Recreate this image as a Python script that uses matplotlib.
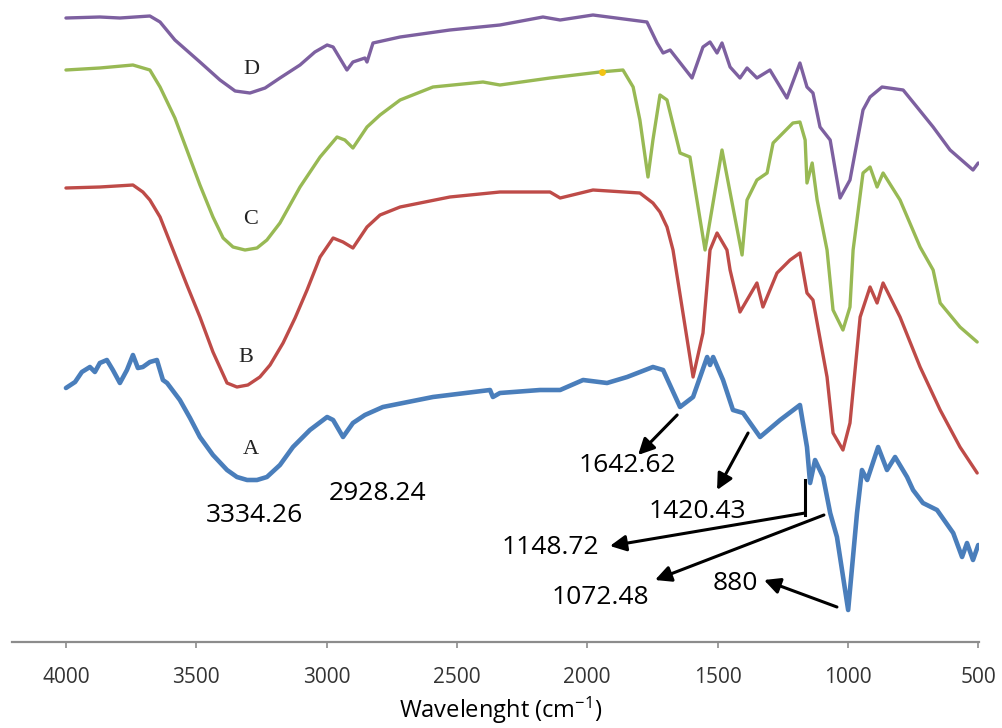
import matplotlib
matplotlib.use("Agg")
import matplotlib.pyplot as plt

# FTIR spectra, wavenumber (cm-1) vs. offset transmittance (arbitrary units)
wn_a = [4000, 3965, 3939, 3908, 3889, 3870, 3843, 3820, 3793, 3766, 3743, 3724, 3705, 3678,
        3651, 3628, 3612, 3563, 3524, 3486, 3436, 3382, 3344, 3305, 3267, 3229, 3179, 3129,
        3064, 2998, 2975, 2937, 2899, 2853, 2784, 2592,
        2373, 2362, 2335, 2181, 2104, 2016, 1924, 1847, 1748, 1709, 1644, 1594, 1540, 1529,
        1517, 1479, 1441, 1402, 1337, 1260, 1184, 1157, 1145, 1126, 1095, 1068, 1042, 999,
        965, 946, 926, 884, 850, 819, 773, 750, 712, 658, 596, 562, 543, 520, 500]
tr_a = [254, 260, 270, 275, 270, 279, 282, 272, 259, 272, 287, 274, 275, 280,
        282, 262, 259, 242, 224, 205, 187, 172, 165, 162, 162, 165, 177, 195,
        212, 225, 222, 205, 219, 227, 235, 245,
        252, 245, 249, 252, 252, 262, 259, 265, 275, 272, 235, 245, 285, 277,
        285, 262, 232, 229, 205, 222, 237, 195, 159, 182, 165, 129, 105, 32,
        129, 172, 162, 195, 172, 185, 165, 152, 139, 132, 109, 85, 99, 82, 97]

wn_b = [4000, 3870, 3743, 3705, 3678, 3639, 3589, 3536, 3486, 3436, 3382, 3344, 3302, 3256,
        3217, 3167, 3121, 3075, 3025, 2975, 2937, 2899, 2845, 2795, 2718, 2527, 2335, 2143,
        2104, 1978, 1798, 1748, 1721, 1694, 1671, 1594, 1556, 1529,
        1502, 1464, 1452, 1414, 1349, 1326, 1272, 1222, 1184, 1157, 1134, 1080, 1057, 1019,
        992, 953, 915, 888, 865, 800, 723, 646, 570, 504]
tr_b = [454, 455, 457, 450, 442, 425, 392, 357, 325, 290, 259, 255, 257, 265,
        277, 299, 324, 352, 385, 404, 400, 394, 415, 427, 435, 445, 450, 450,
        444, 452, 449, 439, 430, 415, 392, 265, 309, 392,
        409, 392, 372, 330, 359, 335, 369, 382, 389, 349, 342, 265, 209, 192,
        219, 325, 355, 339, 359, 325, 275, 232, 195, 169]

wn_c = [4000, 3870, 3743, 3678, 3639, 3582, 3536, 3486, 3436, 3397, 3359, 3313, 3267, 3229,
        3179, 3102, 3025, 2960, 2930, 2899, 2845, 2795, 2718, 2592, 2400, 2335, 2143, 1951,
        1863, 1824, 1798, 1767, 1748, 1721, 1694, 1644, 1606, 1548,
        1483, 1406, 1387, 1349, 1310, 1287, 1249, 1211, 1184, 1164, 1157, 1137, 1118, 1080,
        1057, 1019, 992, 980, 942, 915, 888, 865, 800, 723, 673, 646, 570, 504]
tr_c = [572, 574, 577, 572, 555, 524, 492, 457, 425, 404, 395, 392, 394, 402,
        419, 455, 485, 505, 502, 494, 515, 527, 542, 555, 560, 557, 564, 570,
        572, 555, 522, 465, 502, 547, 542, 489, 485, 392,
        492, 387, 442, 462, 469, 499, 509, 519, 520, 502, 459, 479, 442, 392,
        332, 312, 335, 392, 469, 475, 455, 469, 442, 395, 372, 339, 315, 300]

wn_d = [4000, 3870, 3793, 3678, 3639, 3582, 3486, 3409, 3351, 3294, 3236, 3179, 3102, 3045,
        2998, 2975, 2922, 2899, 2853, 2845, 2822, 2718, 2527,
        2335, 2170, 2104, 1978, 1771, 1732, 1709, 1682, 1598, 1556, 1529, 1502, 1483, 1452,
        1414, 1387, 1349, 1299, 1234, 1184, 1157, 1134, 1107, 1068, 1030, 992, 942, 915,
        869, 788, 735, 673, 608, 520, 500]
tr_d = [624, 625, 624, 626, 620, 602, 580, 562, 551, 549, 554, 564, 577, 590,
        597, 595, 572, 580, 584, 580, 599, 605, 612,
        617, 625, 622, 627, 620, 599, 589, 592, 564, 595, 600, 589, 599, 575,
        564, 574, 564, 572, 544, 579, 555, 549, 515, 502, 444, 462, 532, 545,
        555, 552, 535, 515, 492, 472, 479]

# small yellow blip on curve C
blip_wn = [1943]
blip_tr = [570]

series_names = ["A", "B", "C", "D"]
colors = ["#4A7EBB", "#BE4B48", "#98B954", "#7D60A0"]

# curve letters
letter_wn = [3290, 3310, 3290, 3290]
letter_tr = [193, 284, 422, 572]

# peak labels: text, text position, arrow tail, arrow tip
peak_labels = ["3334.26", "2928.24", "1642.62", "1420.43", "1148.72", "1072.48", "880"]
peak_text_wn = [3275, 2803, 1847, 1579, 2143, 1951, 1433]
peak_text_tr = [127, 149, 177, 130, 94, 44, 59]
arrow_tail = [None, None, (1655, 227), (1383, 209), (1164, 129), (1092, 127), (1042, 35)]
arrow_tip = [None, None, (1805, 187), (1502, 152), (1913, 96), (1740, 62), (1322, 62)]

fig = plt.figure(figsize=(10.02, 7.28), dpi=100)
ax = fig.add_axes([12 / 1002, 86 / 728, 967 / 1002, 642 / 728])

curves = [(wn_a, tr_a), (wn_b, tr_b), (wn_c, tr_c), (wn_d, tr_d)]
for (wn, tr), c, name in zip(curves, colors, series_names):
    lw = 3.3 if name == "A" else 2.4
    ax.plot(wn, tr, color=c, lw=lw, solid_joinstyle="round", solid_capstyle="round")

ax.plot(blip_wn, blip_tr, "o", color="#F2C314", ms=5, mec="none")

for name, x, y in zip(series_names, letter_wn, letter_tr):
    ax.text(x, y, name, family="Liberation Serif", fontsize=16, color="#222222",
            ha="center", va="center")

for txt, x, y, tail, tip in zip(peak_labels, peak_text_wn, peak_text_tr, arrow_tail, arrow_tip):
    ax.text(x, y, txt, family="Open Sans", fontsize=19, color="black", ha="center", va="center")
    if tail is not None:
        ax.annotate("", xy=tip, xytext=tail,
                    arrowprops=dict(arrowstyle="-|>", color="black", lw=2.2,
                                    mutation_scale=24, shrinkA=0, shrinkB=0))

# elbow of the 1148.72 pointer
ax.plot([1164, 1164], [162, 127], color="black", lw=2.2)

ax.set_xlim(4207, 497)
ax.set_ylim(0, 642)
ax.set_xticks([4000, 3500, 3000, 2500, 2000, 1500, 1000, 500])
ax.set_yticks([])
for s in ["top", "left", "right"]:
    ax.spines[s].set_visible(False)
ax.spines["bottom"].set_color("#8C8C8C")
ax.spines["bottom"].set_linewidth(1.6)
ax.tick_params(axis="x", direction="out", length=4, width=1.2, color="#8C8C8C",
               pad=14, labelsize=15, labelcolor="#333333")
for lbl in ax.get_xticklabels():
    lbl.set_family("Open Sans")

plt.rcParams["mathtext.default"] = "regular"
ax.set_xlabel("Wavelenght (cm$^{-1}$)", family="Open Sans", fontsize=17, color="black")
ax.xaxis.set_label_coords(0.505, -0.083)

fig.savefig("out.png", dpi=100, facecolor="white")
